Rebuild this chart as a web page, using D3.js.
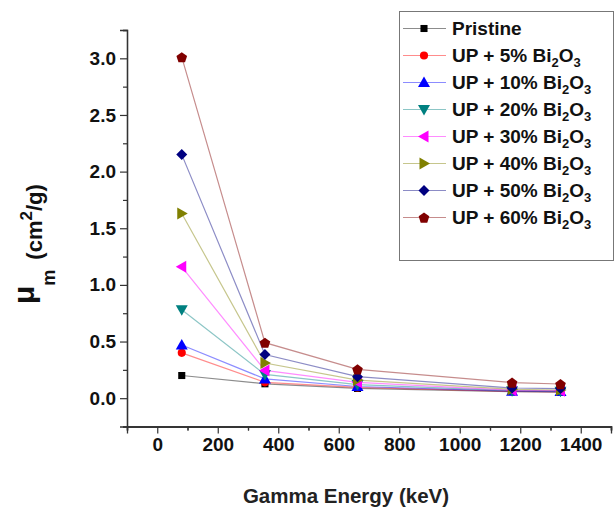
<!DOCTYPE html>
<html>
<head>
<meta charset="utf-8">
<script src="https://cdn.jsdelivr.net/npm/d3@7/dist/d3.min.js"></script>
<style>
  html, body { margin: 0; padding: 0; background: #fff; }
  svg { display: block; }
  text { font-family: Arial, "Liberation Sans", sans-serif; }
</style>
</head>
<body>
<svg id="chart" width="615" height="509"></svg>
<script>
// Photon energies (keV)
const energies = [81, 356, 662, 1173, 1333];

// Series labels (Bi2O3 loading in unsaturated polyester)
const seriesNames = ["Pristine", "UP + 5%", "UP + 10%", "UP + 20%", "UP + 30%", "UP + 40%", "UP + 50%", "UP + 60%"];

// Mass attenuation coefficients (cm^2/g), one array per series
const pristine = [0.20, 0.127, 0.086, 0.058, 0.053];
const up5      = [0.40, 0.140, 0.095, 0.060, 0.055];
const up10     = [0.47, 0.170, 0.103, 0.062, 0.058];
const up20     = [0.78, 0.210, 0.120, 0.066, 0.062];
const up30     = [1.16, 0.245, 0.140, 0.070, 0.066];
const up40     = [1.63, 0.310, 0.160, 0.078, 0.072];
const up50     = [2.15, 0.385, 0.190, 0.090, 0.085];
const up60     = [3.01, 0.490, 0.255, 0.138, 0.125];

const seriesValues = [pristine, up5, up10, up20, up30, up40, up50, up60];
const seriesColors = ["#000000", "#ff0000", "#0000ff", "#008080", "#ff00ff", "#808000", "#000080", "#800000"];
const seriesShapes = ["square", "circle", "triUp", "triDown", "triLeft", "triRight", "diamond", "pentagon"];

const xTicks = [0, 200, 400, 600, 800, 1000, 1200, 1400];
const yTicks = [0.0, 0.5, 1.0, 1.5, 2.0, 2.5, 3.0];

const svg = d3.select("#chart");

const x = d3.scaleLinear().domain([-100, 1500]).range([127, 611]);
const y = d3.scaleLinear().domain([-0.25, 3.25]).range([426.5, 30]);

// Marker path generator
function markerPath(shape) {
  if (shape === "circle") return d3.symbol(d3.symbolCircle, 52)();
  if (shape === "square") return d3.symbol(d3.symbolSquare, 50)();
  if (shape === "diamond") return "M0,-5.5L5.5,0L0,5.5L-5.5,0Z";
  if (shape === "pentagon") {
    const r = 5.6, pts = [];
    for (let i = 0; i < 5; i++) {
      const a = -Math.PI / 2 + i * 2 * Math.PI / 5;
      pts.push([r * Math.cos(a), r * Math.sin(a) + 0.6]);
    }
    return "M" + pts.map(p => p.join(",")).join("L") + "Z";
  }
  // triangles
  const s = 6;
  const tri = {
    triUp:    [[0, -s], [s, s * 0.75], [-s, s * 0.75]],
    triDown:  [[0, s], [s, -s * 0.75], [-s, -s * 0.75]],
    triLeft:  [[-s, 0], [s * 0.75, -s], [s * 0.75, s]],
    triRight: [[s, 0], [-s * 0.75, -s], [-s * 0.75, s]]
  }[shape];
  return "M" + tri.map(p => p.join(",")).join("L") + "Z";
}

// Axes
const xAxis = d3.axisBottom(x).tickValues(xTicks).tickSize(7).tickPadding(4).tickFormat(d3.format("d"));
const xMinor = d3.axisBottom(x).tickValues(d3.range(-100, 1501, 200)).tickSize(4).tickFormat("");
const yAxis = d3.axisLeft(y).tickValues(yTicks).tickSize(7).tickPadding(4).tickFormat(d3.format(".1f"));
const yMinor = d3.axisLeft(y).tickValues(d3.range(-0.25, 3.26, 0.5)).tickSize(4).tickFormat("");

function styleAxis(g) {
  g.select(".domain").attr("stroke", "#333").attr("stroke-width", 1.3);
  g.selectAll(".tick line").attr("stroke", "#333").attr("stroke-width", 1.2);
  g.selectAll(".tick text").attr("fill", "#111").attr("font-weight", "bold").attr("font-size", "19px")
    .attr("font-family", "Arial, 'Liberation Sans', sans-serif");
}

svg.append("g").attr("transform", `translate(0,${y.range()[0]})`).call(xMinor).call(styleAxis);
svg.append("g").attr("transform", `translate(0,${y.range()[0]})`).call(xAxis).call(styleAxis);
svg.append("g").attr("transform", `translate(0,${y.range()[0]})`).call(xMinor).call(styleAxis);
svg.append("g").attr("transform", `translate(${x.range()[0]},0)`).call(yMinor).call(styleAxis);
svg.append("g").attr("transform", `translate(${x.range()[0]},0)`).call(yAxis).call(styleAxis);

// Series lines and markers
const line = d3.line().x((d, i) => x(energies[i])).y(d => y(d));
seriesValues.forEach((vals, k) => {
  svg.append("path").datum(vals)
    .attr("d", line)
    .attr("fill", "none")
    .attr("stroke", seriesColors[k])
    .attr("stroke-opacity", 0.45)
    .attr("stroke-width", 1.2);
});
seriesValues.forEach((vals, k) => {
  svg.append("g").selectAll("path").data(vals).join("path")
    .attr("d", markerPath(seriesShapes[k]))
    .attr("transform", (d, i) => `translate(${x(energies[i])},${y(d)})`)
    .attr("fill", seriesColors[k]);
});

// Axis titles
svg.append("text")
  .attr("x", 346).attr("y", 503)
  .attr("text-anchor", "middle")
  .attr("font-family", "'Open Sans', sans-serif")
  .attr("font-weight", 600)
  .attr("font-size", "20.5px")
  .attr("fill", "#222")
  .text("Gamma Energy (keV)");

const yTitle = svg.append("text")
  .attr("transform", "translate(34,304) rotate(-90)")
  .attr("fill", "#111")
  .attr("font-weight", "bold");
yTitle.append("tspan").attr("font-size", "30px").text("μ");
yTitle.append("tspan").attr("font-size", "18px").attr("dy", 21).text("m");
yTitle.append("tspan").attr("font-size", "22px").attr("dx", 10).attr("dy", -13).text("(cm");
yTitle.append("tspan").attr("font-size", "17px").attr("dy", -10).text("2");
yTitle.append("tspan").attr("font-size", "22px").attr("dy", 10).text("/g)");

// Legend
const legend = svg.append("g");
legend.append("rect")
  .attr("x", 399.5).attr("y", 11.5).attr("width", 214).attr("height", 249)
  .attr("fill", "#fff").attr("stroke", "#777").attr("stroke-width", 1);

seriesNames.forEach((name, k) => {
  const cy = 28.5 + k * 27;
  const row = legend.append("g").attr("transform", `translate(0,${cy})`);
  row.append("line").attr("x1", 403).attr("x2", 446).attr("y1", 0).attr("y2", 0)
    .attr("stroke", seriesColors[k]).attr("stroke-opacity", 0.45).attr("stroke-width", 1.2);
  row.append("path").attr("d", markerPath(seriesShapes[k]))
    .attr("transform", "translate(424,0)").attr("fill", seriesColors[k]);
  const t = row.append("text").attr("x", 452).attr("y", 6.5)
    .attr("font-size", "19px").attr("font-weight", "bold").attr("fill", "#111");
  if (k === 0) {
    t.text(name);
  } else {
    t.append("tspan").text(name + " Bi");
    t.append("tspan").attr("font-size", "13px").attr("dy", 5).text("2");
    t.append("tspan").attr("dy", -5).text("O");
    t.append("tspan").attr("font-size", "13px").attr("dy", 5).text("3");
  }
});
</script>
</body>
</html>
